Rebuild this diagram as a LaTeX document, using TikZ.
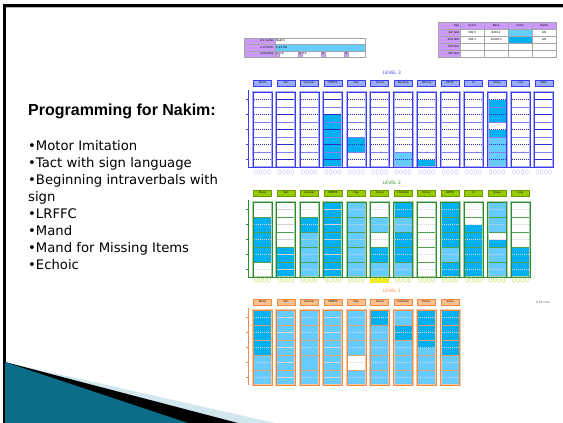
\documentclass[tikz,border=0pt]{standalone}
\usepackage{fontspec}
\setmainfont{DejaVu Sans}
\newfontfamily\titlefont{Liberation Sans}
\usetikzlibrary{positioning}

\definecolor{dkfill}{HTML}{00B0F0}
\definecolor{ltfill}{HTML}{66CCFF}
\definecolor{bluelin}{HTML}{3C3CF0}
\definecolor{bluehalo}{HTML}{AAAAF2}
\definecolor{bluesep}{HTML}{8080EA}
\definecolor{bluedash}{HTML}{2B2BC8}
\definecolor{bluebtn}{HTML}{9AAEFF}
\definecolor{greenlin}{HTML}{2D8C2D}
\definecolor{greenhalo}{HTML}{AACCAA}
\definecolor{greensep}{HTML}{4F9F4F}
\definecolor{greenbtn}{HTML}{99CC00}
\definecolor{greenbtnlin}{HTML}{6A9A00}
\definecolor{orangelin}{HTML}{F48A3E}
\definecolor{orangehalo}{HTML}{F7C6A0}
\definecolor{orangesep}{HTML}{E0A070}
\definecolor{orangebtn}{HTML}{FBC08E}
\definecolor{keypurple}{HTML}{CC99FF}
\definecolor{tealdark}{HTML}{0B6E88}
\definecolor{teallight}{HTML}{5DB7D3}
\definecolor{paleband}{HTML}{D3E7EF}

\tikzset{
  cell/.style={draw=gray!70, line width=0.3pt, minimum height=6.5pt, inner xsep=1pt, inner ysep=0pt, anchor=north west, font=\fontsize{2.8}{3}\selectfont},
  keycell/.style={cell, fill=keypurple},
  btn/.style={draw, line width=0.7pt, minimum width=18pt, minimum height=6pt, inner sep=0pt, font=\fontsize{2.6}{3}\selectfont},
  lvl/.style={font=\fontsize{4.5}{5}\selectfont, inner sep=0pt},
  bullet/.style={anchor=base west, inner sep=0pt, font=\fontsize{13.2}{16}\selectfont},
}

% white columns under the fills
\newcommand{\gridback}[2]{%
  \foreach \i in {0,...,#2} \fill[white] (253+23.45*\i,#1) rectangle ++(19,75);}
% dashes, row lines and column frames
\newcommand{\gridlines}[6]{%
  \foreach \i in {0,...,#2}{
    \foreach \r in {0,...,4}
      \draw[#6, dash pattern=on 1.2pt off 0.8pt, line width=0.4pt] (254+23.45*\i,#1+7.5+15*\r) -- ++(17,0);
    \foreach \r in {1,...,4}
      \draw[#5, line width=1pt] (253+23.45*\i,#1+15*\r) -- ++(19,0);
    \draw[#4, line width=2pt] (253+23.45*\i,#1) rectangle ++(19,75);
    \draw[#3, line width=0.6pt] (253+23.45*\i,#1) rectangle ++(19,75);
  }}

\begin{document}
\begin{tikzpicture}[x=1pt, y=-1pt]
\useasboundingbox (0,0) rectangle (563,423);

% slide frame
\draw[line width=2.7pt] (4.3,423) -- (4.3,5.3) -- (563,5.3);
\draw[gray!60, line width=0.6pt] (5.7,7.3) -- (563,7.3);

% corner wedge
\fill[paleband] (5,362) -- (275,423) -- (5,423) -- cycle;
\fill[black] (5,362) -- (238,423) -- (5,423) -- cycle;
\shade[left color=tealdark, middle color=teallight, right color=tealdark] (5,362) -- (188,423) -- (5,423) -- cycle;

% text on the left
\node[anchor=base west, inner sep=0pt, font=\titlefont\bfseries\fontsize{16}{18}\selectfont] (title) at (28,115) {Programming for Nakim:};
\foreach \txt [count=\k] in {•Motor Imitation, •Tact with sign language, •Beginning intraverbals with, sign,
    •LRFFC, •Mand, •Mand for Missing Items, •Echoic}
  \node[bullet] (line\k) at (28,150+17*\k-17) {\txt};

% child table
\node[keycell, minimum width=31pt, text width=29pt, align=right] (nmlab) at (244,37.5) {d's name:};
\node[cell, minimum width=90pt, text width=88pt, align=left] (nm) at (275,37.5) {Nakim};
\node[keycell, minimum width=31pt, text width=29pt, align=right] (doblab) at (244,44) {e of birth:};
\node[cell, fill=ltfill, minimum width=90pt, text width=88pt, align=left] (dob) at (275,44) {6.23.08};
\node[keycell, minimum width=31pt, text width=29pt, align=right] (tstlab) at (244,50.5) {al testing:};
\node[keycell, minimum width=4pt, text width=2pt] (t1) at (275,50.5) {1};
\node[cell, minimum width=19pt, text width=17pt] (d1) at (279,50.5) {10};
\node[keycell, minimum width=4pt, text width=2pt] (t2) at (298,50.5) {2};
\node[cell, minimum width=19pt, text width=17pt] (d2) at (302,50.5) {14};
\node[keycell, minimum width=4pt, text width=2pt] (t3) at (321,50.5) {3};
\node[cell, minimum width=19pt, text width=17pt] (d3) at (325,50.5) {};
\node[keycell, minimum width=4pt, text width=2pt] (t4) at (344,50.5) {4};
\node[cell, minimum width=17pt, text width=15pt] (d4) at (348,50.5) {};

% key table
\foreach \lab [count=\k from 0] in {Key,1st test,2nd test,3rd test,4th test}
  \node[keycell, minimum width=22pt, text width=20pt, align=right] (key\k) at (438,22+7*\k) {\lab};
\foreach \lab [count=\k from 0] in {Score,Date,Color,Tester}
  \node[keycell, minimum width=24pt, text width=22pt, align=center] (head\k) at (460+24*\k,22) {\lab};
\foreach \k in {1,...,4}
  \foreach \j in {0,...,3}
    \node[cell, minimum width=24pt, text width=22pt] (c\k\j) at (460+24*\j,22+7*\k) {};
\node[cell, minimum width=24pt, text width=22pt, align=center] at (460,29) {300.5};
\node[cell, minimum width=24pt, text width=22pt, align=center] at (484,29) {6/8/12};
\node[cell, fill=ltfill, minimum width=24pt, text width=22pt] at (508,29) {};
\node[cell, minimum width=24pt, text width=22pt, align=center] at (532,29) {LW};
\node[cell, minimum width=24pt, text width=22pt, align=center] at (460,36) {306.5};
\node[cell, minimum width=24pt, text width=22pt, align=center] at (484,36) {6/28/13};
\node[cell, fill=dkfill, minimum width=24pt, text width=22pt] at (508,36) {};
\node[cell, minimum width=24pt, text width=22pt, align=center] at (532,36) {LW};

% LEVEL 3
\node[lvl, text=bluelin] (lvl3) at (392,73) {LEVEL 3};
\foreach \lab [count=\i from 0] in {Mand,Tact,Listener,VP/MTS,Play,Social,Reading,Writing,LRFFC,IV,Group,Ling,Math}
  \node[btn, draw=bluelin, fill=bluebtn] (b3-\i) at (262.5+23.45*\i,83) {\lab};
\gridback{92}{12}
\foreach \c/\a/\b/\col in {3/3/10/dkfill, 4/6/8/dkfill, 6/8/10/ltfill, 7/9/10/dkfill,
    10/1/4/dkfill, 10/5/6/dkfill, 10/6/10/ltfill}
  \fill[\col] (253+23.45*\c,92+7.5*\a) rectangle (272+23.45*\c,92+7.5*\b);
\gridlines{92}{12}{bluelin}{bluehalo}{bluesep}{bluedash}
\fill[white] (254.5+23.45*6,114.7) rectangle ++(16,1.6);
\draw[bluelin, line width=0.8pt] (248,90) -- (248,167) -- (553,167);
\foreach \r in {0,...,4} \draw[bluelin, line width=0.4pt] (246,99.5+15*\r) -- (248,99.5+15*\r);
\foreach \i in {0,...,12} \foreach \k in {0,...,3}
  \draw[bluehalo!55, line width=0.5pt] (256+23.45*\i+4.3*\k,172) ellipse (1.5 and 2.3);

% LEVEL 2
\node[lvl, text=greenlin] (lvl2) at (392,183) {LEVEL 2};
\foreach \lab [count=\i from 0] in {Mand,Tact,Listener,VP/MTS,Play,Social,Imitation,Echoic,LRFFC,IV,Group,Ling}
  \node[btn, draw=greenbtnlin, fill=greenbtn] (b2-\i) at (262.5+23.45*\i,193) {\lab};
\gridback{202}{11}
\foreach \c/\a/\b/\col in {0/2/8/dkfill, 1/6/10/dkfill, 2/2/4/dkfill, 2/4/10/ltfill, 3/0/10/dkfill,
    4/0/10/ltfill, 5/2/4/ltfill, 5/6/8/dkfill, 5/8/10/ltfill, 6/0/2/dkfill, 6/2/4/ltfill,
    6/4/8/dkfill, 6/8/10/ltfill, 8/0/6/dkfill, 8/6/8/ltfill, 8/8/10/dkfill, 9/3/10/dkfill,
    10/0/4/ltfill, 10/5/6/dkfill, 10/6/10/ltfill, 11/6/10/dkfill}
  \fill[\col] (253+23.45*\c,202+7.5*\a) rectangle (272+23.45*\c,202+7.5*\b);
\gridlines{202}{11}{greenlin}{greenhalo}{greensep}{gray!35}
\draw[greenlin, line width=0.8pt] (248,200) -- (248,277) -- (530,277);
\foreach \r in {0,...,4} \draw[greenlin, line width=0.4pt] (246,209.5+15*\r) -- (248,209.5+15*\r);
\fill[yellow] (370.3,277.5) rectangle ++(19,5);
\foreach \i in {0,...,11} \foreach \k in {0,...,3}
  \draw[greenbtn!55, line width=0.5pt] (256+23.45*\i+4.3*\k,280) ellipse (1.5 and 2.3);

% LEVEL 1
\node[lvl, text=orangelin] (lvl1) at (392,291) {LEVEL 1};
\foreach \lab [count=\i from 0] in {Mand,Tact,Listener,VP/MTS,Play,Social,Imitation,Echoic,Vocal}
  \node[btn, draw=orangelin, fill=orangebtn] (b1-\i) at (262.5+23.45*\i,302) {\lab};
\node[lvl, font=\fontsize{3}{3.5}\selectfont, text=gray!80!black] (age) at (543,302) {0-18 mon};
\gridback{310}{8}
\foreach \c/\a/\b/\col in {0/0/6/dkfill, 0/6/10/ltfill, 1/0/10/ltfill, 2/0/10/ltfill, 3/0/10/ltfill,
    4/0/6/ltfill, 4/8/10/ltfill, 5/0/2/dkfill, 5/2/10/ltfill, 6/0/2/ltfill, 6/2/4/dkfill,
    6/4/10/ltfill, 7/0/5/dkfill, 7/5/10/ltfill, 8/0/6/dkfill, 8/6/10/ltfill}
  \fill[\col] (253+23.45*\c,310+7.5*\a) rectangle (272+23.45*\c,310+7.5*\b);
\gridlines{310}{8}{orangelin}{orangehalo}{orangesep}{gray!30}
\fill[ltfill] (254.5+23.45*2,361.7) rectangle ++(16,1.6);
\draw[orangelin, line width=0.8pt] (248,308) -- (248,385);
\foreach \r in {0,...,4} \draw[orangelin, line width=0.4pt] (246,317.5+15*\r) -- (248,317.5+15*\r);
\end{tikzpicture}
\end{document}
